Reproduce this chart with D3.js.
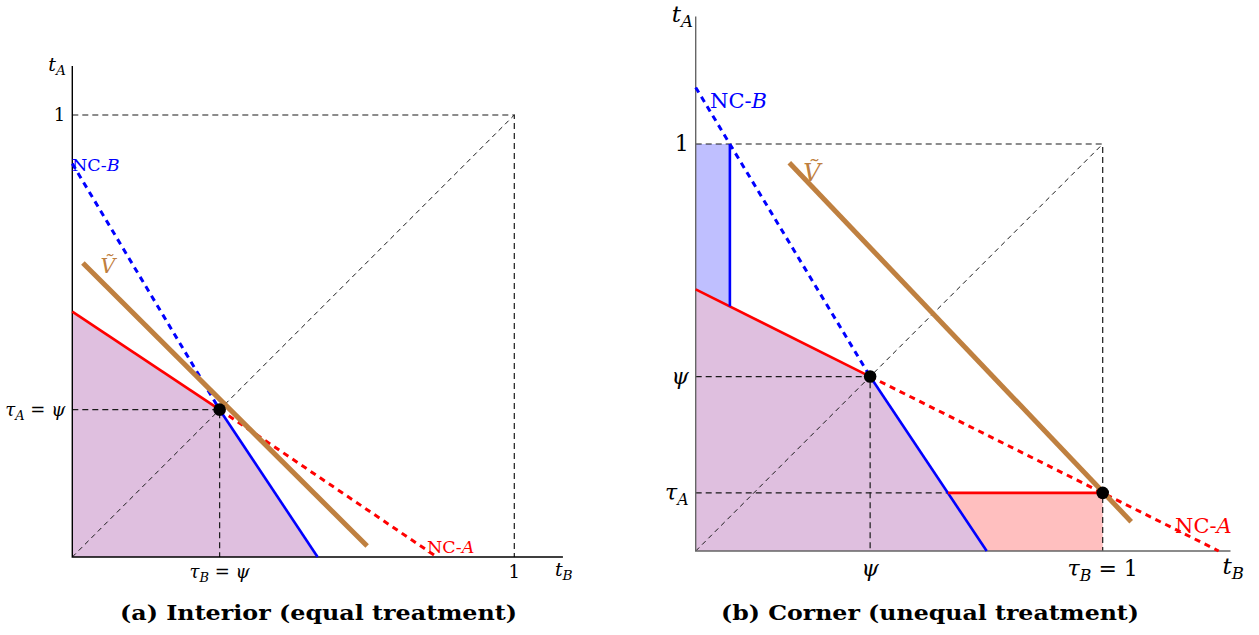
<!DOCTYPE html>
<html>
<head>
<meta charset="utf-8">
<script src="https://cdn.jsdelivr.net/npm/d3@7"></script>
<style>
  body { margin: 0; background: #fff; }
  svg { display: block; }
  text { font-family: "DejaVu Serif", "Liberation Serif", serif; }
</style>
</head>
<body>
<svg id="chart" width="1259" height="635"></svg>
<script>
// ---- panel (a): interior, psi = 1/3 ----
const psiA = 1 / 3;
const ncA_a = [[0, 0.555], [psiA, psiA], [0.825, 0]];   // NC-A: solid up to psi, dashed after
const ncB_a = [[0, 0.89], [psiA, psiA], [0.555, 0]];    // NC-B: dashed up to psi, solid after
const vTilde_a = [[0.024, 0.665], [0.667, 0.025]];
const purple_a = [[0, 0], [0, 0.555], [psiA, psiA], [0.555, 0]];
const xTicks_a = [[psiA, "τ_B = ψ"], [1, "1"]];
const yTicks_a = [[psiA, "τ_A = ψ"], [1, "1"]];

// ---- panel (b): corner, psi = 3/7, tau_A = 1/7 ----
const psiB = 3 / 7;
const tauA = 1 / 7;
const ncA_b = [[0, 0.643], [psiB, psiB], [1.285, 0]];
const ncB_b = [[0, 1.139], [psiB, psiB], [0.715, 0]];
const vTilde_b = [[0.23, 0.954], [1.07, 0.072]];
const blueWall_b = [[0.084, 1], [0.084, 0.601]];
const redFloor_b = [[0.62, tauA], [1, tauA]];
const purple_b = [[0, 0], [0, 0.643], [psiB, psiB], [0.715, 0]];
const blue_b = [[0, 1], [0.084, 1], [0.084, 0.601], [0, 0.643]];
const pink_b = [[0.62, tauA], [1, tauA], [1, 0], [0.715, 0]];
const xTicks_b = [[psiB, "ψ"], [1, "τ_B = 1"]];
const yTicks_b = [[1, "1"], [psiB, "ψ"], [tauA, "τ_A"]];

const captions = ["(a) Interior (equal treatment)", "(b) Corner (unequal treatment)"];

const RED = "#ff0000", BLUE = "#0000ff", BROWN = "#bf8040";
const svg = d3.select("#chart");

// writes a label; "_X" makes X a subscript, letters in tτψABṼ are italic
function mathText(g, x, y, str, size, anchor, color) {
  const t = g.append("text")
    .attr("x", x).attr("y", y)
    .attr("font-size", size)
    .attr("text-anchor", anchor)
    .attr("fill", color || "#000");
  let shift = 0;
  const re = /_(.)|([tτψABṼ]+)|([^_tτψABṼ]+)/g;
  let m;
  while ((m = re.exec(str))) {
    const ts = t.append("tspan");
    if (m[1]) {
      ts.attr("font-size", size * 0.72).attr("font-style", "italic")
        .attr("dy", size * 0.22).text(m[1]);
      shift = size * 0.22;
    } else {
      ts.attr("dy", -shift).text(m[2] || m[3]);
      if (m[2]) ts.attr("font-style", "italic");
      shift = 0;
    }
  }
  return t;
}

function panel(cfg) {
  const g = svg.append("g");
  const x = d3.scaleLinear().domain([0, 1]).range(cfg.xr);
  const y = d3.scaleLinear().domain([0, 1]).range(cfg.yr);
  const line = d3.line().x(d => x(d[0])).y(d => y(d[1]));
  const poly = pts => line(pts) + "Z";

  // shaded regions
  g.append("path").attr("d", poly(cfg.purple)).attr("fill", "#dfbfdf");
  if (cfg.blueFill) g.append("path").attr("d", poly(cfg.blueFill)).attr("fill", "#bfbfff");
  if (cfg.pinkFill) g.append("path").attr("d", poly(cfg.pinkFill)).attr("fill", "#ffbfbf");

  // thin dashed guides
  const guide = (pts, w, dash) => g.append("path").attr("d", line(pts))
    .attr("fill", "none").attr("stroke", "#1a1a1a").attr("stroke-width", w)
    .attr("stroke-dasharray", dash);
  guide([[0, 1], [1, 1], [1, 0]], 1.2, "6,4");
  guide([[0, 0], [1, 1]], 1, "5,4");
  cfg.guides.forEach(p => guide(p, 1.2, "6,4"));

  // axes
  g.append("path").attr("d", line([[0, cfg.yMax], [0, 0], [cfg.xMax, 0]]))
    .attr("fill", "none").attr("stroke", cfg.axisColor).attr("stroke-width", 1.4);

  // no-cut lines
  const seg = (pts, color, dashed) => g.append("path").attr("d", line(pts))
    .attr("fill", "none").attr("stroke", color)
    .attr("stroke-width", dashed ? 3 : 2.6)
    .attr("stroke-dasharray", dashed ? "6,5" : null);
  seg(cfg.ncA.slice(0, 2), RED, false);
  seg(cfg.ncA.slice(1), RED, true);
  seg(cfg.ncB.slice(0, 2), BLUE, true);
  seg(cfg.ncB.slice(1), BLUE, false);
  if (cfg.blueWall) seg(cfg.blueWall, BLUE, false);
  if (cfg.redFloor) seg(cfg.redFloor, RED, false);

  g.append("path").attr("d", line(cfg.vTilde))
    .attr("fill", "none").attr("stroke", BROWN).attr("stroke-width", 5);

  // equilibrium dots
  g.selectAll("circle.eq").data(cfg.dots).join("circle")
    .attr("cx", d => x(d[0])).attr("cy", d => y(d[1])).attr("r", 6.3).attr("fill", "#000");

  // tick labels
  const fs = cfg.fs;
  cfg.xTicks.forEach(([v, s]) => mathText(g, x(v), cfg.yr[0] + fs * 1.15, s, fs, "middle"));
  cfg.yTicks.forEach(([v, s]) => mathText(g, cfg.xr[0] - 7, y(v) + fs * 0.33, s, fs, "end"));
  mathText(g, x(cfg.xMax) - 8, cfg.yr[0] + fs * 1.05, "t_B", fs + 1, "start");
  mathText(g, cfg.xr[0] - 24, y(cfg.yMax) + 5, "t_A", fs + 1, "start");

  // line labels
  const ls = cfg.lfs;
  mathText(g, cfg.ncBLabel[0], cfg.ncBLabel[1], "NC-B", ls, "start", BLUE);
  mathText(g, cfg.ncALabel[0], cfg.ncALabel[1], "NC-A", ls, "start", RED);
  mathText(g, cfg.vLabel[0], cfg.vLabel[1], "Ṽ", ls + 3, "middle", BROWN);

  // caption
  svg.append("text").attr("x", cfg.cap[0]).attr("y", 620)
    .attr("font-weight", "bold")
    .attr("font-size", 19.5).attr("textLength", cfg.cap[1]).attr("lengthAdjust", "spacingAndGlyphs")
    .text(cfg.caption);
}

panel({
  xr: [72.3, 514.3], yr: [557, 115], xMax: 1.11, yMax: 1.111,
  axisColor: "#000", fs: 18, lfs: 17.5,
  purple: purple_a, ncA: ncA_a, ncB: ncB_a, vTilde: vTilde_a,
  guides: [[[0, psiA], [psiA, psiA], [psiA, 0]]],
  dots: [[psiA, psiA]],
  xTicks: xTicks_a, yTicks: yTicks_a,
  ncBLabel: [72, 171], ncALabel: [427, 553], vLabel: [108, 273],
  caption: captions[0], cap: [120, 397]
});

panel({
  xr: [695.7, 1102.7], yr: [551, 144], xMax: 1.314, yMax: 1.313,
  axisColor: "#666", fs: 22, lfs: 21,
  purple: purple_b, blueFill: blue_b, pinkFill: pink_b,
  ncA: ncA_b, ncB: ncB_b, vTilde: vTilde_b,
  blueWall: blueWall_b, redFloor: redFloor_b,
  guides: [[[0, psiB], [psiB, psiB], [psiB, 0]], [[0, tauA], [1, tauA]]],
  dots: [[psiB, psiB], [1, tauA]],
  xTicks: xTicks_b, yTicks: yTicks_b,
  ncBLabel: [710, 108], ncALabel: [1175, 533], vLabel: [812, 181],
  caption: captions[1], cap: [721, 418]
});
</script>
</body>
</html>
